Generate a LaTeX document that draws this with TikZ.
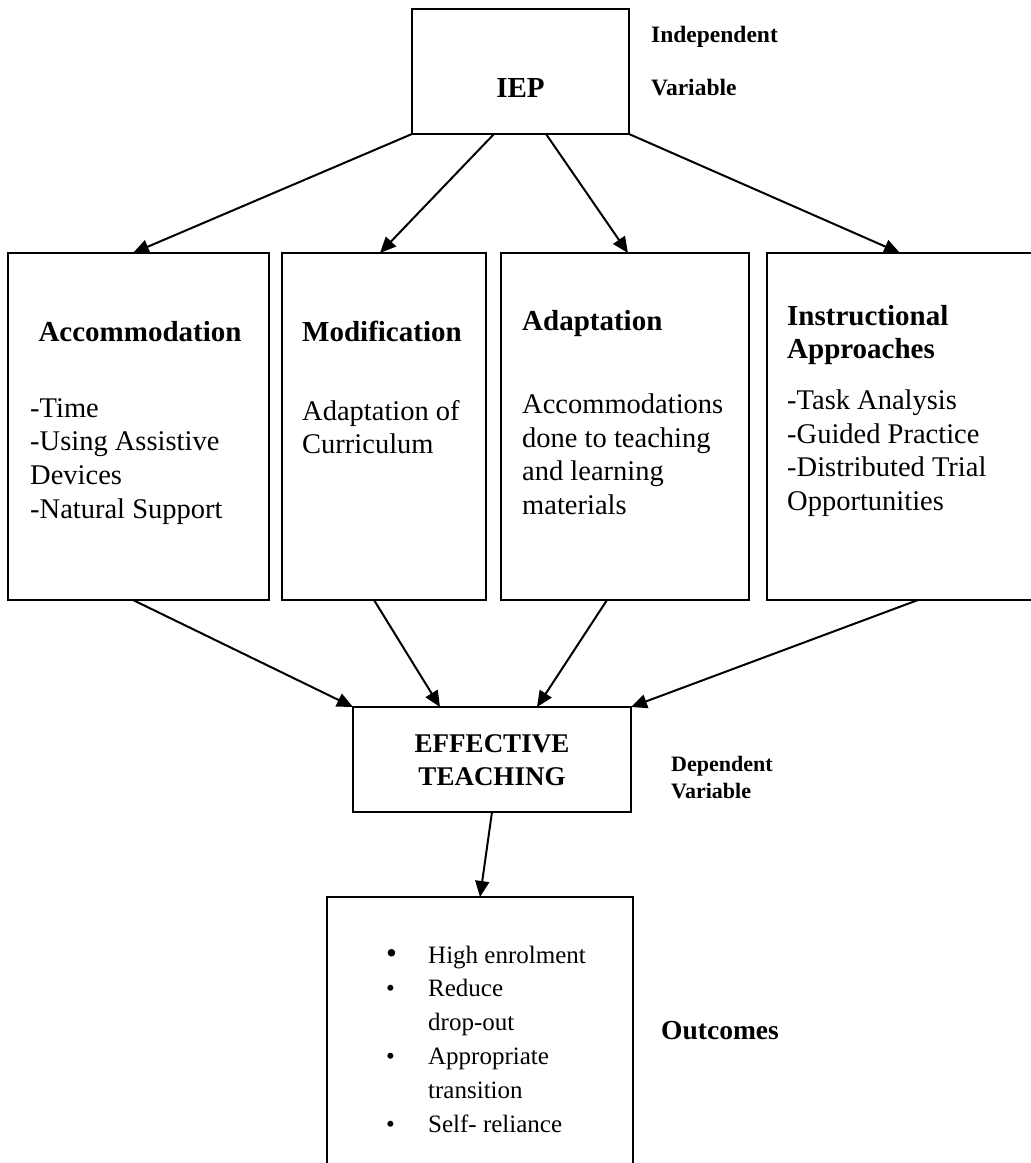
\documentclass[tikz,border=0pt]{standalone}
\usepackage{fontspec}
\setmainfont{Liberation Serif}
\usetikzlibrary{arrows.meta,calc}
\begin{document}
\begin{tikzpicture}[x=1pt,y=-1pt,
  box/.style={draw,line width=2pt,rectangle,inner sep=0pt,outer sep=0pt},
  conn/.style={line width=2pt,-{Triangle[length=16pt,width=14pt]}},
  head/.style={font=\bfseries\fontsize{29}{33.5}\selectfont,inner sep=0pt,anchor=base west,align=left},
  body/.style={font=\fontsize{28.5}{33.7}\selectfont,inner sep=0pt,anchor=base west,align=left},
  side/.style={font=\bfseries\fontsize{23.5}{27}\selectfont,inner sep=0pt,anchor=base west,align=left},
  listtext/.style={font=\fontsize{25}{33.8}\selectfont,inner sep=0pt,anchor=base west,align=left}
]
\useasboundingbox (0,0) rectangle (1031,1163);
\fill[white] (0,0) rectangle (1031,1163);
\clip (0,0) rectangle (1031,1163);

% boxes
\node[box,minimum width=217pt,minimum height=125pt] (iep) at (520.5,71.5) {};
\node[box,minimum width=261pt,minimum height=347pt] (acc) at (138.5,426.5) {};
\node[box,minimum width=204pt,minimum height=347pt] (mod) at (384,426.5) {};
\node[box,minimum width=248pt,minimum height=347pt] (ada) at (625,426.5) {};
\node[box,minimum width=280pt,minimum height=347pt] (ins) at (907,426.5) {};
\node[box,minimum width=278pt,minimum height=105pt] (eff) at (492,759.5) {};
\node[box,minimum width=306pt,minimum height=290pt] (out) at (480,1042) {};

% texts (multi-line nodes are placed by the baseline of their last line)
\node[font=\bfseries\fontsize{29}{34}\selectfont,inner sep=0pt,anchor=base] (ieptxt) at (520.5,97) {IEP};
\node[side] (indep) at (651,42) {Independent};
\node[side] (indvar) at (651,95) {Variable};

\node[font=\bfseries\fontsize{29}{34}\selectfont,inner sep=0pt,anchor=base] (acch) at (140,341) {Accommodation};
\node[body] (accb) at (30,518.1) {-Time\\-Using Assistive\\Devices\\-Natural Support};

\node[head] (modh) at (302,341) {Modification};
\node[body] (modb) at (302,453.7) {Adaptation of\\Curriculum};

\node[head] (adah) at (522,330.5) {Adaptation};
\node[body] (adab) at (522,514.4) {Accommodations\\done to teaching\\and learning\\materials};

\node[head] (insh) at (787,358.5) {Instructional\\Approaches};
\node[body] (insb) at (787,510.4) {-Task Analysis\\-Guided Practice\\-Distributed Trial\\Opportunities};

\node[font=\bfseries\fontsize{27}{33}\selectfont,inner sep=0pt,anchor=base,align=center] (efft) at (492,785) {EFFECTIVE\\TEACHING};
\node[font=\bfseries\fontsize{22}{27}\selectfont,inner sep=0pt,anchor=base west,align=left] (dep) at (671,798) {Dependent\\Variable};

\node[listtext] (outl) at (386,1132) {%
\makebox[42pt][l]{\fontsize{31}{33.8}\selectfont •}High enrolment\\
\makebox[42pt][l]{•}Reduce\\
\hspace*{42pt}drop-out\\
\makebox[42pt][l]{•}Appropriate\\
\hspace*{42pt}transition\\
\makebox[42pt][l]{•}Self- reliance};
\node[font=\bfseries\fontsize{27.5}{33}\selectfont,inner sep=0pt,anchor=base west] (outc) at (661,1039) {Outcomes};

% connectors
\draw[conn] (iep.south west) -- ($(acc.north west)+(125,0)$);
\draw[conn] ($(iep.south west)+(82,0)$) -- ($(mod.north west)+(98,0)$);
\draw[conn] ($(iep.south west)+(134,0)$) -- ($(ada.north west)+(127,0)$);
\draw[conn] (iep.south east) -- ($(ins.north west)+(133,0)$);

\draw[conn] ($(acc.south west)+(125,0)$) -- (eff.north west);
\draw[conn] ($(mod.south west)+(92,0)$) -- ($(eff.north west)+(87,0)$);
\draw[conn] ($(ada.south west)+(106,0)$) -- ($(eff.north west)+(184,0)$);
\draw[conn] ($(ins.south west)+(151,0)$) -- (eff.north east);

\draw[conn] (eff.south) -- ($(out.north west)+(153,0)$);
\end{tikzpicture}
\end{document}
